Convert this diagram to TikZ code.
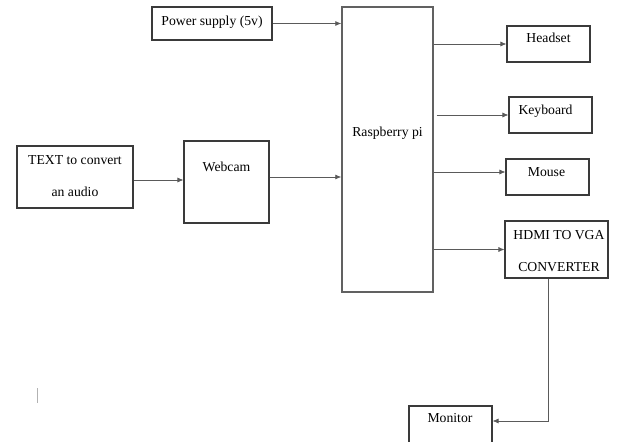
\documentclass[tikz,border=0pt]{standalone}
\usepackage{fontspec}
\setmainfont{Liberation Serif}
\usetikzlibrary{arrows.meta}
\definecolor{boxline}{HTML}{3A3A3A}
\definecolor{wireline}{HTML}{5A5A5A}
\tikzset{
  blk/.style={draw=boxline, line width=1.1pt, rectangle, inner sep=0pt},
  txt/.style={font=\fontsize{13.7}{16}\selectfont, align=center, inner sep=0pt},
  wire/.style={draw=wireline, line width=0.7pt, -{Latex[length=6pt,width=5pt]}},
}
\begin{document}
\begin{tikzpicture}[x=1pt,y=-1pt]
        \clip (0,0) rectangle (617,441);
        % boxes
        \node[blk, minimum width=120pt, minimum height=33pt] (pwr) at (212,23.5) {};
        \node[blk, minimum width=116pt, minimum height=62pt] (txtin) at (75,177) {};
        \node[blk, minimum width=85pt, minimum height=82pt] (cam) at (226.5,182) {};
        \node[blk, line width=1.4pt, draw=boxline!80, minimum width=91pt, minimum height=285pt] (rpi) at (387.5,149.5) {};
        \node[blk, minimum width=83pt, minimum height=36pt] (head) at (548.5,44) {};
        \node[blk, minimum width=83pt, minimum height=36pt] (keyb) at (550.5,115) {};
        \node[blk, minimum width=83pt, minimum height=36pt] (mouse) at (547.5,177) {};
        \node[blk, minimum width=103pt, minimum height=57pt] (hdmi) at (556.5,249.5) {};
        \node[blk, minimum width=83pt, minimum height=50pt] (mon) at (450.5,431) {};
        % texts
        \node[txt] (pwrtxt) at (212,22.5) {Power supply (5v)};
        \node[txt] (txtintxt) at (75,176) {TEXT to convert\\[16pt]an audio};
        \node[txt] (camtxt) at (226.5,167) {Webcam};
        \node[txt] (rpitxt) at (387.5,133) {Raspberry pi};
        \node[txt] (headtxt) at (548.5,38) {Headset};
        \node[txt] (keybtxt) at (545.5,111) {Keyboard};
        \node[txt] (mousetxt) at (546.5,172) {Mouse};
        \node[txt] (hdmitxt) at (559,251) {HDMI TO VGA\\[16pt]CONVERTER};
        \node[txt] (montxt) at (450,418) {Monitor};
        % connectors
        \draw[wire] (pwr.east) -- (pwr.east -| rpi.west);
        \draw[wire, transform canvas={yshift=-3pt}] (txtin.east) -- (txtin.east -| cam.west);
        \draw[wire, transform canvas={yshift=5pt}] (cam.east) -- (cam.east -| rpi.west);
        \draw[wire] (head.west -| rpi.east) -- (head.west);
        \draw[wire] ([xshift=3pt]rpi.east |- keyb.west) -- (keyb.west);
        \draw[wire, transform canvas={yshift=5pt}] (mouse.west -| rpi.east) -- (mouse.west);
        \draw[wire] (hdmi.west -| rpi.east) -- (hdmi.west);
        \draw[wire] ([xshift=-8.5pt]hdmi.south) |- ([yshift=10pt]mon.east);
        \draw[gray!60, line width=1pt] (37,388) -- (37,403);
    \end{tikzpicture}
\end{document}
